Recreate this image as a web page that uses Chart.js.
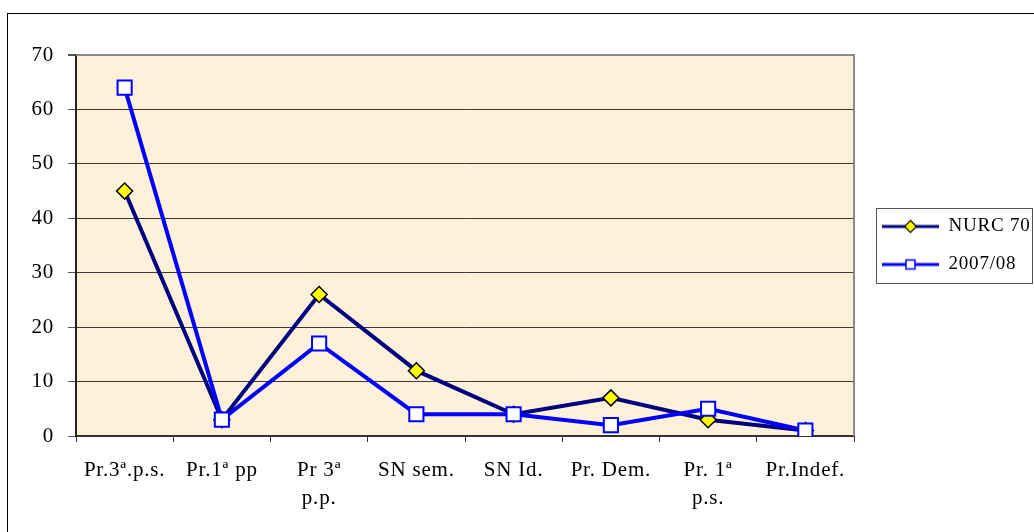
<!DOCTYPE html>
<html>
<head>
<meta charset="utf-8">
<script src="https://cdn.jsdelivr.net/npm/chart.js@4.4.0/dist/chart.umd.min.js"></script>
<style>
    body { margin: 0; background: #ffffff; }
    #wrap { width: 1034px; height: 532px; }
</style>
</head>
<body>
<div id="wrap"><canvas id="main-chart" width="1034" height="532"></canvas></div>
<script>
const categories = [ 'Pr.3ª.p.s.', 'Pr.1ª pp', [ 'Pr 3ª', 'p.p.' ], 'SN sem.', 'SN Id.', 'Pr. Dem.', [ 'Pr. 1ª', 'p.s.' ], 'Pr.Indef.' ];
const nurc70 = [ 45, 3, 26, 12, 4, 7, 3, 1 ];
const year2007 = [ 64, 3, 17, 4, 4, 2, 5, 1 ];
const yTicks = [ 0, 10, 20, 30, 40, 50, 60, 70 ];

const FONT = "'Liberation Serif', 'Times New Roman', serif";

// small picture used as legend symbol: line with the marker in the middle
function legendSymbol( lineColor, marker )
{
    const c = document.createElement('canvas');
    c.width = 66;
    c.height = 16;
    const g = c.getContext('2d');
    g.strokeStyle = lineColor;
    g.lineWidth = 3;
    g.beginPath();
    g.moveTo( 9, 8 );
    g.lineTo( 66, 8 );
    g.stroke();
    if( marker === 'diamond' )
    {
        g.beginPath();
        g.moveTo( 37.5, 2 );
        g.lineTo( 43.5, 8 );
        g.lineTo( 37.5, 14 );
        g.lineTo( 31.5, 8 );
        g.closePath();
        g.fillStyle = '#ffff00';
        g.fill();
        g.strokeStyle = '#000000';
        g.lineWidth = 1.2;
        g.stroke();
    }
    else
    {
        g.fillStyle = '#ffffff';
        g.fillRect( 33, 3.5, 9, 9 );
        g.strokeStyle = lineColor;
        g.lineWidth = 1.5;
        g.strokeRect( 33, 3.5, 9, 9 );
    }
    return c;
}

const spacingPlugin = {
    id: 'spacing',
    beforeLayout( chart ) { chart.ctx.letterSpacing = '0.8px'; },
    beforeDraw( chart ) {
        const ctx = chart.ctx;
        const a = chart.chartArea;
        ctx.letterSpacing = '0.8px';
        ctx.save();
        ctx.fillStyle = '#ffffff';
        ctx.fillRect( 0, 0, chart.width, chart.height );
        ctx.fillStyle = '#fdf1da';
        ctx.fillRect( a.left, a.top, a.right - a.left, a.bottom - a.top );
        ctx.restore();
    },
    beforeDatasetsDraw( chart ) {
        const ctx = chart.ctx;
        const a = chart.chartArea;
        ctx.save();
        ctx.strokeStyle = '#8a8a8a';
        ctx.lineWidth = 2;
        ctx.beginPath();
        ctx.moveTo( a.left, a.top );
        ctx.lineTo( a.right, a.top );
        ctx.lineTo( a.right, a.bottom );
        ctx.stroke();
        ctx.restore();
    },
    afterDraw( chart ) {
        const ctx = chart.ctx;
        ctx.save();
        ctx.strokeStyle = '#000000';
        ctx.lineWidth = 1;
        ctx.strokeRect( 7.5, 13.5, chart.width + 20, chart.height + 20 );
        // legend frame
        const hb = chart.legend.legendHitBoxes;
        if( hb && hb.length )
        {
            const top = Math.round( hb[0].top + hb[0].height / 2 - 19 ) + 0.5;
            const bottom = Math.round( hb[hb.length - 1].top + hb[hb.length - 1].height / 2 + 18 ) + 0.5;
            const left = Math.round( chart.legend.left + 22 ) + 0.5;
            ctx.strokeStyle = '#555555';
            ctx.strokeRect( left, top, 1032.5 - left, bottom - top );
        }
        ctx.restore();
    }
};

document.addEventListener('DOMContentLoaded', function(){

    const ctx = document.getElementById('main-chart').getContext('2d');
    new Chart( ctx, {
        type: 'line',
        data: {
            labels: categories,
            datasets: [
                {
                    label: 'NURC 70',
                    data: nurc70,
                    borderColor: '#000080',
                    borderWidth: 4,
                    tension: 0,
                    pointStyle: 'rectRot',
                    pointRadius: 8,
                    pointBackgroundColor: '#ffff00',
                    pointBorderColor: '#000000',
                    pointBorderWidth: 1.5,
                    order: 2,
                    legendSymbol: legendSymbol( '#000080', 'diamond' )
                },
                {
                    label: '2007/08',
                    data: year2007,
                    borderColor: '#0000ff',
                    borderWidth: 4,
                    tension: 0,
                    pointStyle: 'rect',
                    pointRadius: 10,
                    pointBackgroundColor: '#ffffff',
                    pointBorderColor: '#0000ff',
                    pointBorderWidth: 2,
                    order: 1,
                    legendSymbol: legendSymbol( '#0000ff', 'square' )
                }
            ]
        },
        options: {
            responsive: false,
            animation: false,
            devicePixelRatio: 1,
            layout: { padding: { top: 55, left: 0, right: 0, bottom: 0 } },
            scales: {
                x: {
                    offset: true,
                    afterFit: s => { s.height = 96; },
                    grid: { offset: true, drawOnChartArea: false, drawTicks: true, tickLength: 6, tickColor: '#333333' },
                    border: { color: '#333333', width: 2 },
                    ticks: {
                        color: '#000000',
                        padding: 15,
                        maxRotation: 0,
                        autoSkip: false,
                        font: { family: FONT, size: 21, lineHeight: 1.33 }
                    }
                },
                y: {
                    min: 0,
                    max: 70,
                    afterFit: s => { s.width = 76; },
                    afterBuildTicks: s => { s.ticks = yTicks.map( v => ({ value: v }) ); },
                    grid: {
                        color: c => c.tick && c.tick.value === 70 ? '#8a8a8a' : '#3a3a3a',
                        lineWidth: c => c.tick && c.tick.value === 70 ? 2 : 1,
                        tickLength: 8,
                        tickColor: '#555555'
                    },
                    border: { color: '#222222', width: 2 },
                    ticks: {
                        color: '#000000',
                        padding: 14,
                        font: { family: FONT, size: 21 }
                    }
                }
            },
            plugins: {
                tooltip: { enabled: false },
                legend: {
                    position: 'right',
                    fullSize: false,
                    maxWidth: 180,
                    labels: {
                        usePointStyle: true,
                        pointStyleWidth: 66,
                        padding: 19,
                        color: '#000000',
                        font: { family: FONT, size: 19 },
                        generateLabels: chart => chart.data.datasets.map( ( ds, i ) => ({
                            text: ds.label,
                            pointStyle: ds.legendSymbol,
                            fillStyle: ds.borderColor,
                            strokeStyle: ds.borderColor,
                            lineWidth: 0,
                            hidden: false,
                            datasetIndex: i
                        }) )
                    }
                }
            }
        },
        plugins: [ spacingPlugin ]
    });

});
</script>
</body>
</html>
